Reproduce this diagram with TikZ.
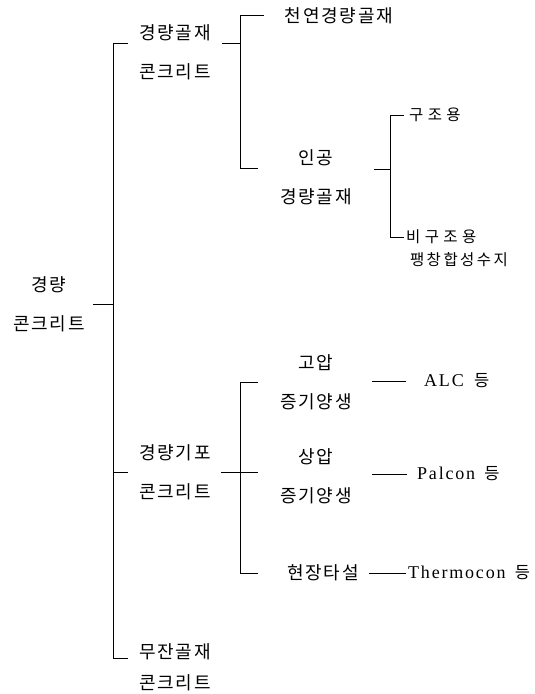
\documentclass[tikz,border=0pt]{standalone}
\usepackage{fontspec}
\setmainfont{Liberation Serif}
\newfontfamily\krmain{Noto Sans CJK KR}[LetterSpace=10]
\newfontfamily\krsmall{Noto Sans CJK KR}[LetterSpace=28]
\newfontfamily\krsmallb{Noto Sans CJK KR}[LetterSpace=16]
\newfontfamily\latn{Liberation Serif}[LetterSpace=10]
\begin{document}
\begin{tikzpicture}[x=1pt,y=-1pt,
  lbl/.style={inner sep=0pt,align=center,font=\krmain\fontsize{18}{39}\selectfont},
  slbl/.style={inner sep=0pt,font=\krsmall\fontsize{15.5}{17}\selectfont},
  elbl/.style={inner sep=0pt,font=\latn\fontsize{18}{19}\selectfont},
  ln/.style={line width=0.7pt}]
\useasboundingbox (0,0) rectangle (535,694);
% nodes
\node[lbl] (root) at (49,304) {경량\\콘크리트};
\node[lbl] (A) at (175,52) {경량골재\\콘크리트};
\node[lbl] (B) at (175,472) {경량기포\\콘크리트};
\node[lbl,font=\krmain\fontsize{18}{31}\selectfont] (C) at (175,667) {무잔골재\\콘크리트};
\node[lbl] (A1) at (339,16) {천연경량골재};
\node[lbl] (A2) at (316,177) {인공\\경량골재};
\node[slbl,anchor=west] (A2a) at (409,115) {구조용};
\node[slbl,anchor=west] (A2b) at (406,237) {비구조용};
\node[slbl,font=\krsmallb\fontsize{15.5}{17}\selectfont] (A3) at (459,260) {팽창합성수지};
\node[lbl] (B1) at (316,382) {고압\\증기양생};
\node[lbl] (B2) at (316,476) {상압\\증기양생};
\node[lbl] (B3) at (323,573) {현장타설};
\node[elbl,anchor=west] (B1e) at (424,381) {ALC\hspace{4pt} {\krmain\fontsize{16.5}{18}\selectfont 등}};
\node[elbl,anchor=west] (B2e) at (417,474) {Palcon\hspace{3pt} {\krmain\fontsize{16.5}{18}\selectfont 등}};
\node[elbl,anchor=west] (B3e) at (408,573) {Thermocon\hspace{3pt} {\krmain\fontsize{16.5}{18}\selectfont 등}};
% bracket corners
\coordinate (m1) at (113,43);
\coordinate (m2) at (113,658);
\coordinate (a1) at (240,15);
\coordinate (a2) at (240,168);
\coordinate (aa1) at (390,115);
\coordinate (aa2) at (390,237);
\coordinate (aam) at (390,169);
\coordinate (b1) at (240,382);
\coordinate (b2) at (240,573);
% main bracket
\draw[ln] ([xshift=8pt]root.east) -- (root.east -| m1);
\draw[ln] ([xshift=-11pt]A.west |- m1) -- (m1) -- (m2) -- ([xshift=-11pt]C.west |- m2);
\draw[ln] (m1 |- B.west) -- ([xshift=-11pt]B.west);
% A bracket
\draw[ln] ([xshift=11pt]A.east |- m1) -- (a1 |- m1);
\draw[ln] ([xshift=-21pt]A1.west |- a1) -- (a1) -- (a2) -- ([xshift=-22pt]A2.west |- a2);
% A2 bracket
\draw[ln] ([xshift=22pt]A2.east |- aam) -- (aam);
\draw[ln] ([xshift=-5pt]A2a.west |- aa1) -- (aa1) -- (aa2) -- ([xshift=-2pt]A2b.west |- aa2);
% B bracket
\draw[ln] ([xshift=10pt]B.east) -- ([xshift=18pt]b1 |- B.east);
\draw[ln] ([xshift=-22pt]B1.west |- b1) -- (b1) -- (b2) -- ([xshift=-29pt]B3.west |- b2);
% connectors to examples
\draw[ln] ([xshift=20pt]B1.east |- B1e.west) -- ([xshift=-18pt]B1e.west);
\draw[ln] ([xshift=20pt]B2.east |- B2e.west) -- ([xshift=-10pt]B2e.west);
\draw[ln] ([xshift=10pt]B3.east |- B3e.west) -- ([xshift=-2pt]B3e.west);
\end{tikzpicture}
\end{document}
